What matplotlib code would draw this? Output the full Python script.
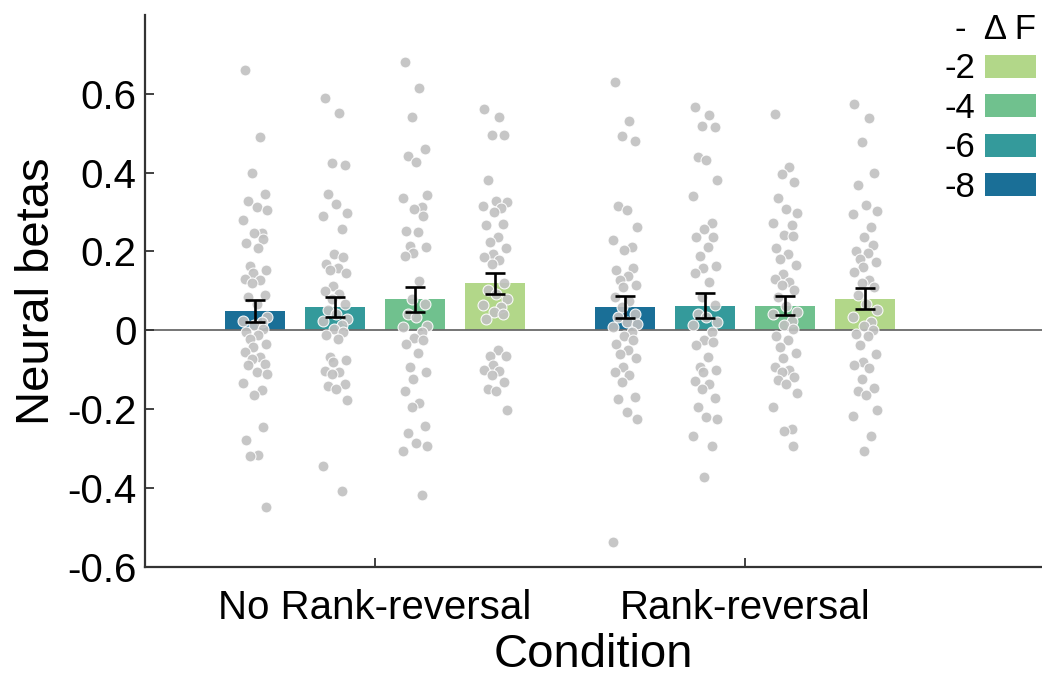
import numpy as np
import matplotlib.pyplot as plt

# ── Data ──────────────────────────────────────────────────────────────────────
conditions = ["No Rank-reversal", "Rank-reversal"]
delta_f    = ["-8", "-6", "-4", "-2"]
colors     = ["#1a6f97", "#349a9b", "#70c18e", "#b2d789"]

means = [[0.049, 0.059, 0.079, 0.119],
         [0.059, 0.063, 0.063, 0.080]]
sems  = [[0.027, 0.026, 0.032, 0.026],
         [0.027, 0.031, 0.025, 0.027]]

# individual subject betas, per condition and -ΔF level
nrr_m8 = [0.66, 0.49, 0.40, 0.346, 0.329, 0.314, 0.305, 0.281, 0.246, 0.246, 0.231,
          0.222, 0.21, 0.163, 0.153, 0.146, 0.13, 0.127, 0.119, 0.089, 0.085, 0.068,
          0.034, 0.025, 0.021, 0.013, 0.004, -0.004, -0.013, -0.021, -0.034, -0.042,
          -0.055, -0.068, -0.072, -0.085, -0.089, -0.106, -0.11, -0.134, -0.151,
          -0.164, -0.246, -0.278, -0.315, -0.319, -0.447]
nrr_m6 = [0.59, 0.55, 0.425, 0.42, 0.347, 0.32, 0.297, 0.29, 0.258, 0.193, 0.186,
          0.168, 0.157, 0.153, 0.146, 0.112, 0.10, 0.093, 0.08, 0.068, 0.051, 0.042,
          0.03, 0.024, 0.013, 0.004, -0.003, -0.013, -0.021, -0.068, -0.076, -0.08,
          -0.102, -0.106, -0.11, -0.136, -0.142, -0.148, -0.176, -0.343, -0.408]
nrr_m4 = [0.68, 0.614, 0.542, 0.461, 0.442, 0.428, 0.343, 0.336, 0.312, 0.308, 0.29,
          0.253, 0.249, 0.214, 0.212, 0.197, 0.188, 0.125, 0.08, 0.068, 0.042, 0.034,
          0.012, 0.008, -0.004, -0.019, -0.024, -0.034, -0.057, -0.093, -0.106,
          -0.123, -0.154, -0.185, -0.195, -0.242, -0.261, -0.285, -0.293, -0.307,
          -0.418]
nrr_m2 = [0.561, 0.542, 0.496, 0.496, 0.381, 0.329, 0.325, 0.315, 0.309, 0.30, 0.269,
          0.267, 0.237, 0.225, 0.208, 0.193, 0.185, 0.178, 0.169, 0.119, 0.102, 0.093,
          0.08, 0.064, 0.059, 0.047, 0.042, 0.03, -0.051, -0.064, -0.066, -0.089,
          -0.10, -0.103, -0.114, -0.131, -0.148, -0.154, -0.203]
rr_m8  = [0.631, 0.532, 0.493, 0.479, 0.315, 0.305, 0.263, 0.229, 0.212, 0.205, 0.157,
          0.153, 0.137, 0.127, 0.114, 0.11, 0.085, 0.075, 0.059, 0.042, 0.034, 0.021,
          0.015, 0.008, -0.004, -0.015, -0.025, -0.034, -0.051, -0.059, -0.069,
          -0.093, -0.106, -0.114, -0.131, -0.169, -0.174, -0.208, -0.225, -0.536]
rr_m6  = [0.566, 0.547, 0.519, 0.515, 0.439, 0.432, 0.381, 0.341, 0.271, 0.258, 0.237,
          0.236, 0.212, 0.188, 0.163, 0.157, 0.146, 0.123, 0.085, 0.064, 0.042, 0.034,
          0.021, 0.013, -0.004, -0.025, -0.03, -0.038, -0.068, -0.093, -0.10, -0.106,
          -0.129, -0.136, -0.148, -0.171, -0.195, -0.219, -0.225, -0.269, -0.292,
          -0.371]
rr_m4  = [0.549, 0.415, 0.397, 0.375, 0.335, 0.307, 0.297, 0.273, 0.267, 0.242, 0.239,
          0.208, 0.193, 0.18, 0.165, 0.142, 0.129, 0.123, 0.114, 0.103, 0.085, 0.061,
          0.047, 0.042, 0.024, 0.013, 0.004, -0.015, -0.024, -0.041, -0.058, -0.069,
          -0.092, -0.10, -0.106, -0.117, -0.127, -0.136, -0.159, -0.195, -0.25,
          -0.254, -0.292]
rr_m2  = [0.574, 0.538, 0.477, 0.40, 0.369, 0.318, 0.303, 0.295, 0.263, 0.236, 0.216,
          0.202, 0.197, 0.18, 0.174, 0.161, 0.148, 0.127, 0.119, 0.11, 0.089, 0.068,
          0.051, 0.034, 0.021, 0.01, 0.0, -0.01, -0.015, -0.036, -0.059, -0.081,
          -0.089, -0.095, -0.123, -0.146, -0.153, -0.165, -0.203, -0.216, -0.269,
          -0.305]
subjects = [[nrr_m8, nrr_m6, nrr_m4, nrr_m2],
            [rr_m8, rr_m6, rr_m4, rr_m2]]

# ── Style ─────────────────────────────────────────────────────────────────────
plt.rcParams["font.family"] = ["Liberation Sans", "DejaVu Sans"]
BAR_STEP  = 0.216
BAR_WIDTH = 0.163
JITTER    = [-0.028, 0.012, -0.008, 0.026, -0.018, 0.004, 0.032, -0.032,
             0.018, -0.002, 0.022, -0.024, 0.008, -0.014, 0.029, -0.006]


def plot_betas():
    fig = plt.figure(figsize=(10.42, 6.75), dpi=100)
    ax = fig.add_axes([0.139, 0.16, 0.861, 0.818])

    group_x = np.arange(1, len(conditions) + 1)
    for g, gx in enumerate(group_x):
        for k in range(len(delta_f)):
            x = gx + (k - 1.5) * BAR_STEP
            ax.bar(x, means[g][k], width=BAR_WIDTH, color=colors[k], zorder=1,
                   label=delta_f[k] if g == 0 else None)
            ys = np.array(subjects[g][k])
            xs = x + np.resize(JITTER, len(ys))
            ax.scatter(xs, ys, s=62, color="#c0c0c0", edgecolor="white",
                       linewidth=0.8, alpha=0.9, zorder=2)
            ax.errorbar(x, means[g][k], yerr=sems[g][k], fmt="none",
                        ecolor="black", elinewidth=1.9, capsize=7,
                        capthick=1.9, zorder=3)

    ax.axhline(0, color="#6a6a6a", linewidth=1.3, zorder=1.5)

    ax.set_xlim(0.378, 2.803)
    ax.set_ylim(-0.6, 0.8)
    ax.set_xticks(group_x)
    ax.set_xticklabels(conditions)
    ax.set_yticks([-0.6, -0.4, -0.2, 0, 0.2, 0.4, 0.6])
    ax.set_yticklabels(["-0.6", "-0.4", "-0.2", "0", "0.2", "0.4", "0.6"])
    ax.tick_params(direction="in", length=6.5, width=1.3, colors="#333333",
                   labelcolor="black", labelsize=29)
    ax.tick_params(axis="x", pad=16)
    ax.tick_params(axis="y", pad=6)
    for side in ["top", "right"]:
        ax.spines[side].set_visible(False)
    for side in ["left", "bottom"]:
        ax.spines[side].set_color("#333333")
        ax.spines[side].set_linewidth(1.6)

    ax.set_xlabel("Condition", fontsize=34, labelpad=4)
    ax.set_ylabel("Neural betas", fontsize=34, labelpad=6)

    handles, labels = ax.get_legend_handles_labels()
    ax.legend(handles[::-1], labels[::-1], title="-  Δ F",
              loc="upper right", bbox_to_anchor=(0.993, 1.004),
              frameon=False, markerfirst=False, fontsize=25,
              title_fontsize=25, handlelength=1.45, handleheight=0.64,
              handletextpad=0.3, labelspacing=0.19, borderaxespad=0.0,
              borderpad=0.0, alignment="right")

    fig.savefig("out.png", dpi=100)


if __name__ == "__main__":
    plot_betas()
